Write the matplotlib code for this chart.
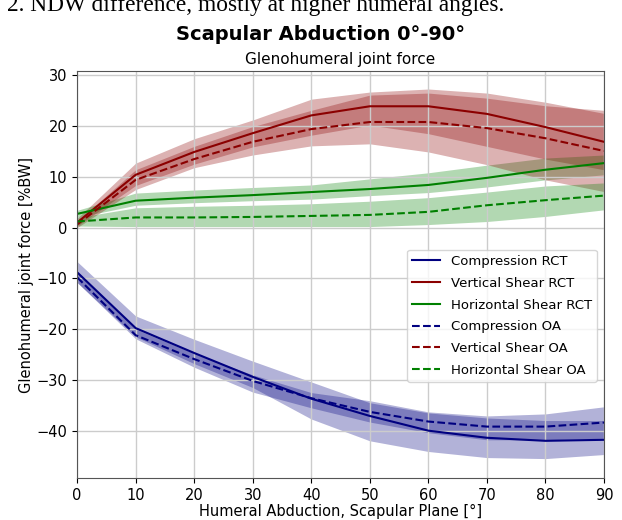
import matplotlib
matplotlib.use("Agg")
import matplotlib.pyplot as plt

# humeral abduction angles [deg]
angles = [0, 10, 20, 30, 40, 50, 60, 70, 80, 90]

# Compression
comp_rct = [-8.8, -19.8, -24.7, -29.4, -33.7, -37.1, -40.0, -41.4, -42.0, -41.8]
comp_rct_lo = [-10.8, -21.5, -26.8, -31.5, -37.7, -42.0, -44.1, -45.3, -45.5, -44.7]
comp_rct_hi = [-6.7, -17.4, -22.0, -26.3, -30.4, -34.5, -36.5, -37.5, -38.0, -38.0]
comp_oa = [-9.8, -21.2, -25.9, -30.2, -33.6, -36.3, -38.2, -39.2, -39.2, -38.4]
comp_oa_lo = [-10.8, -21.9, -27.5, -32.4, -35.5, -38.3, -40.4, -41.8, -41.8, -41.5]
comp_oa_hi = [-8.6, -20.0, -24.8, -29.0, -32.5, -34.1, -36.3, -37.1, -36.7, -35.3]

# Vertical shear
vert_rct = [1.0, 10.4, 14.9, 18.6, 22.1, 23.9, 23.9, 22.4, 19.8, 16.9]
vert_rct_lo = [0.3, 8.3, 12.5, 15.9, 18.2, 20.2, 18.5, 16.0, 13.5, 11.4]
vert_rct_hi = [1.8, 12.7, 17.5, 21.2, 25.3, 26.7, 27.3, 26.5, 24.7, 22.5]
vert_oa = [0.6, 9.4, 13.5, 16.9, 19.4, 20.8, 20.8, 19.6, 17.6, 15.1]
vert_oa_lo = [0.0, 7.5, 11.8, 14.3, 16.1, 16.5, 14.9, 12.4, 9.4, 7.1]
vert_oa_hi = [1.2, 11.4, 16.0, 19.9, 23.1, 26.1, 26.5, 25.5, 24.0, 23.1]

# Horizontal shear
hor_rct = [2.7, 5.3, 5.9, 6.4, 7.0, 7.6, 8.4, 9.8, 11.4, 12.7]
hor_rct_lo = [2.0, 4.4, 4.9, 5.3, 5.6, 6.3, 6.9, 8.0, 9.4, 10.4]
hor_rct_hi = [3.4, 6.8, 7.4, 7.9, 8.4, 9.6, 10.8, 12.3, 13.7, 14.3]
hor_oa = [1.2, 2.0, 2.0, 2.1, 2.3, 2.5, 3.1, 4.4, 5.4, 6.3]
hor_oa_lo = [0.3, 0.2, 0.2, 0.2, 0.2, 0.2, 0.6, 1.2, 2.2, 3.5]
hor_oa_hi = [2.0, 3.9, 4.2, 4.4, 4.7, 5.2, 5.9, 7.0, 8.2, 8.8]

fig = plt.figure(figsize=(6.22, 5.2), dpi=100)
ax = fig.add_axes([0.124, 0.081, 0.847, 0.782])

# cut-off caption line above the figure (only its lower half shows in the source)
fig.text(0.011, 1 - 11 / 520, "2. NDW difference, mostly at higher humeral angles.",
         family="Liberation Serif", fontsize=16.8, va="baseline", ha="left")

fill_alpha = 0.3

ax.fill_between(angles, comp_rct_lo, comp_rct_hi, color="navy", alpha=fill_alpha, lw=0)
ax.fill_between(angles, vert_rct_lo, vert_rct_hi, color="darkred", alpha=fill_alpha, lw=0)
ax.fill_between(angles, hor_rct_lo, hor_rct_hi, color="green", alpha=fill_alpha, lw=0)
ax.fill_between(angles, comp_oa_lo, comp_oa_hi, color="navy", alpha=fill_alpha, lw=0)
ax.fill_between(angles, vert_oa_lo, vert_oa_hi, color="darkred", alpha=fill_alpha, lw=0)
ax.fill_between(angles, hor_oa_lo, hor_oa_hi, color="green", alpha=fill_alpha, lw=0)

ax.plot(angles, comp_rct, color="navy", lw=1.5, label="Compression RCT")
ax.plot(angles, vert_rct, color="darkred", lw=1.5, label="Vertical Shear RCT")
ax.plot(angles, hor_rct, color="green", lw=1.5, label="Horizontal Shear RCT")
ax.plot(angles, comp_oa, color="navy", lw=1.5, ls="--", label="Compression OA")
ax.plot(angles, vert_oa, color="darkred", lw=1.5, ls="--", label="Vertical Shear OA")
ax.plot(angles, hor_oa, color="green", lw=1.5, ls="--", label="Horizontal Shear OA")

ax.set_xlim(0, 90)
ax.set_ylim(-49.3, 30.8)
ax.set_xticks(range(0, 91, 10))
ax.set_yticks(range(-40, 31, 10))
ax.tick_params(labelsize=10.5)
ax.grid(True, color="#cccccc", lw=1)
for s in ax.spines.values():
    s.set_color("#555555")

ax.set_xlabel("Humeral Abduction, Scapular Plane [°]", fontsize=10.5, labelpad=1)
ax.set_ylabel("Glenohumeral joint force [%BW]", fontsize=10.5, labelpad=2)
ax.set_title("Glenohumeral joint force", fontsize=11, pad=5)
fig.suptitle("Scapular Abduction 0°-90°", fontsize=14, fontweight="bold", x=0.515, y=0.952)

ax.legend(loc="lower right", bbox_to_anchor=(0.987, 0.236), borderaxespad=0,
          fontsize=9.5, handlelength=2.1, labelspacing=0.66)

fig.savefig("out.png", dpi=100)
